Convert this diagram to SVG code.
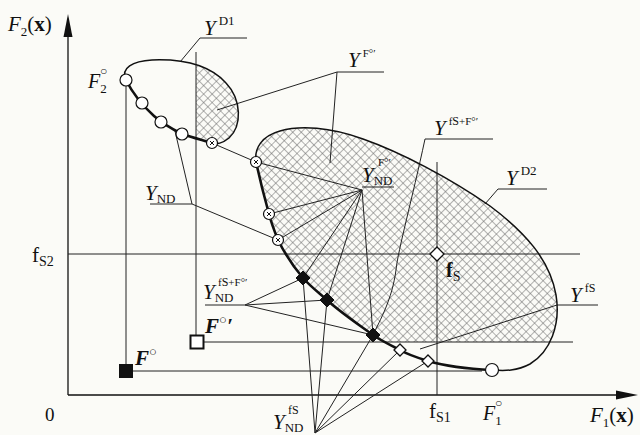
<svg xmlns="http://www.w3.org/2000/svg" width="640" height="435" viewBox="0 0 640 435">
<style>
text{font-family:"Liberation Serif","Times New Roman",serif;fill:#111}
.it{font-style:italic}
.bd{font-weight:bold}
.ln{stroke:#222;stroke-width:1;fill:none}
.ax{stroke:#111;stroke-width:1.3;fill:none}
.bnd{stroke:#111;stroke-width:1.5;fill:none}
.pf{stroke:#111;stroke-width:2.6;fill:none}
.oc{fill:#fff;stroke:#111;stroke-width:1.2}
.fd{fill:#111;stroke:#111;stroke-width:1}
.od{fill:#fff;stroke:#111;stroke-width:1.3}
.big{font-size:21px}
.sup{font-size:11px}
.sub{font-size:13px}
</style>
<defs>
<pattern id="hatch" patternUnits="userSpaceOnUse" width="6" height="6" patternTransform="rotate(45)">
<path d="M0,0H6M0,0V6" stroke="#666" stroke-width="1"/>
</pattern>
<clipPath id="clipD1"><path d="M126,80 C120,68 133,61 152,60 C178,59 208,63 226,83 C242,100 242,126 229,138 C223,143 216,145 212,143 C202,140 191,137 182,134 C172,129 162,123 154,116 C143,106 133,94 126,80 Z"/></clipPath>
<clipPath id="clipD2"><path d="M256,162 C254,148 262,136 280,131 C300,125 330,127 363,139 C400,152 450,178 490,206 C525,232 550,260 556,295 C561,325 550,352 530,364 C517,371 505,371 492,370 C470,369 445,366 428,361 C415,357 405,353 400,350 C390,345 380,340 373,335 C355,322 340,312 327,300 C318,292 310,286 303,278 C292,265 283,250 278,240 C274,230 271,222 269,214 C264,196 260,180 256,162 Z"/></clipPath>
</defs>
<rect width="640" height="435" fill="#fbfbf7"/>

<g id="hatching">
<rect x="196" y="50" width="50" height="100" fill="url(#hatch)" clip-path="url(#clipD1)"/>
<rect x="250" y="120" width="320" height="222" fill="url(#hatch)" clip-path="url(#clipD2)"/>
</g>

<g id="axes">
<path class="ax" d="M68,395 V24"/>
<path d="M68,14 L63.5,37 L72.5,37 Z" fill="#111"/>
<path class="ax" d="M68,395 H620"/>
<path d="M638,395 L616,390.5 L616,399.5 Z" fill="#111"/>
</g>

<g id="connectors">
<path class="ln" d="M68,254 H580"/>
<path class="ln" d="M437,162 V395"/>
<path class="ln" d="M126,80 V364"/>
<path class="ln" d="M196,52 V336"/>
<path class="ln" d="M203,342 H573"/>
<path class="ln" d="M133,371 H482"/>
<path class="ln" d="M315,433 L303,278 M315,433 L327,300 M315,433 L373,335 M315,433 L400,350 M315,433 L428,361"/>
<path class="ln" d="M205,305 H245 L303,278 M245,305 L327,300 M245,305 L373,335"/>
<path class="ln" d="M362,187 H394 M362,190 L256,162 M362,190 L269,214 M362,190 L278,240 M362,190 L303,278 M362,190 L327,300 M362,190 L373,335"/>
<path class="ln" d="M150,204 H192 L175,131 M192,204 L278,240"/>
<path class="ln" d="M212,143 L256,162"/>
<path class="ln" d="M247,38 H200 L180,62"/>
<path class="ln" d="M384,72 H337 L217,110 M337,72 L330,163"/>
<path class="ln" d="M493,139 H425 C412,200 398,250 396,270 C392,300 380,320 373,335"/>
<path class="ln" d="M547,189 H498 L485,204"/>
<path class="ln" d="M598,305 H557 L420,349"/>
</g>

<g id="D1">
<path class="bnd" d="M126,80 C120,68 133,61 152,60 C178,59 208,63 226,83 C242,100 242,126 229,138 C223,143 216,145 212,143"/>
<path class="pf" d="M212,143 C202,140 191,137 182,134 C172,129 162,123 154,116 C143,106 133,94 126,80"/>
</g>
<g id="D2">
<path class="bnd" d="M256,162 C254,148 262,136 280,131 C300,125 330,127 363,139 C400,152 450,178 490,206 C525,232 550,260 556,295 C561,325 550,352 530,364 C517,371 505,371 492,370"/>
<path class="pf" d="M492,370 C470,369 445,366 428,361 C415,357 405,353 400,350 C390,345 380,340 373,335 C355,322 340,312 327,300 C318,292 310,286 303,278 C292,265 283,250 278,240 C274,230 271,222 269,214 C264,196 260,180 256,162"/>
</g>

<g id="nd-circles">
<circle class="oc" cx="126" cy="80" r="6"/>
<circle class="oc" cx="142" cy="103" r="6"/>
<circle class="oc" cx="161" cy="122" r="6"/>
<circle class="oc" cx="182" cy="134" r="6"/>
<circle class="oc" cx="492" cy="370" r="6.5"/>
</g>
<g id="nd-crossed">
<g transform="translate(212,143)"><circle class="oc" r="5.5"/><path d="M-2,-2L2,2M2,-2L-2,2" stroke="#111" stroke-width="1"/></g>
<g transform="translate(256,162)"><circle class="oc" r="5.5"/><path d="M-2,-2L2,2M2,-2L-2,2" stroke="#111" stroke-width="1"/></g>
<g transform="translate(269,214)"><circle class="oc" r="5.5"/><path d="M-2,-2L2,2M2,-2L-2,2" stroke="#111" stroke-width="1"/></g>
<g transform="translate(278,240)"><circle class="oc" r="5.5"/><path d="M-2,-2L2,2M2,-2L-2,2" stroke="#111" stroke-width="1"/></g>
</g>
<g id="nd-diamonds">
<path class="fd" d="M303,271 L310,278 L303,285 L296,278 Z"/>
<path class="fd" d="M327,293 L334,300 L327,307 L320,300 Z"/>
<path class="fd" d="M373,328 L380,335 L373,342 L366,335 Z"/>
<path class="od" d="M400,344 L406,350 L400,356 L394,350 Z"/>
<path class="od" d="M428,355 L434,361 L428,367 L422,361 Z"/>
<path class="od" d="M437,247 L444,254 L437,261 L430,254 Z"/>
</g>
<g id="F0">
<rect x="119" y="364" width="14" height="14" fill="#111"/>
<text x="135" y="365" class="it bd" font-size="21">F<tspan dy="-9" font-size="13" font-weight="normal">○</tspan></text>
</g>
<g id="F0prime">
<rect x="190.5" y="335.5" width="13" height="13" fill="#fff" stroke="#111" stroke-width="2"/>
<text x="205" y="333" class="it bd" font-size="21">F<tspan dy="-9" font-size="13" font-weight="normal">○</tspan><tspan dy="9" font-size="21">′</tspan></text>
</g>

<g id="labels">
<text x="8" y="31" font-size="21"><tspan class="it">F</tspan><tspan font-size="13" dy="5">2</tspan><tspan dy="-5">(</tspan><tspan class="bd">x</tspan>)</text>
<text x="590" y="422" font-size="21"><tspan class="it">F</tspan><tspan font-size="13" dy="5">1</tspan><tspan dy="-5">(</tspan><tspan class="bd">x</tspan>)</text>
<text x="45" y="421" font-size="19">0</text>
<text x="88" y="88" font-size="20"><tspan class="it">F</tspan><tspan font-size="13" dy="5">2</tspan></text>
<text x="100" y="75" font-size="12">○</text>
<text x="483" y="420" font-size="20"><tspan class="it">F</tspan><tspan font-size="13" dy="5">1</tspan></text>
<text x="495" y="407" font-size="12">○</text>
<text x="32" y="262" font-size="21">f<tspan font-size="14" dy="4">S2</tspan></text>
<text x="429" y="418" font-size="21">f<tspan font-size="14" dy="4">S1</tspan></text>
<text x="446" y="277" font-size="20" class="bd">f<tspan font-size="14" dy="4" font-weight="normal">S</tspan></text>

<text x="204" y="35" class="big it">Y<tspan font-style="normal" font-size="13" dx="3" dy="-10">D1</tspan></text>
<text x="348" y="67" class="big it">Y<tspan class="sup" font-style="normal" dx="3" dy="-10">F°′</tspan></text>
<text x="434" y="135" class="big it">Y<tspan class="sup" font-style="normal" dx="3" dy="-10">f<tspan font-size="12">S</tspan>+F°′</tspan></text>
<text x="506" y="185" class="big it">Y<tspan font-style="normal" font-size="13" dx="3" dy="-10">D2</tspan></text>
<text x="570" y="302" class="big it">Y<tspan font-style="normal" font-size="12" dx="3" dy="-10">fS</tspan></text>

<text x="362" y="182" class="big it">Y<tspan class="sub" font-style="normal" dy="3">ND</tspan></text>
<text x="378" y="166" class="sup">F°′</text>
<text x="145" y="200" class="big it">Y<tspan class="sub" font-style="normal" dy="3">ND</tspan></text>
<text x="203" y="299" class="big it">Y<tspan class="sub" font-style="normal" dy="3">ND</tspan></text>
<text x="218" y="286" class="sup">f<tspan font-size="12">S</tspan>+F°′</text>
<text x="273" y="429" class="big it">Y<tspan class="sub" font-style="normal" dy="3">ND</tspan></text>
<text x="288" y="414" font-size="12">fS</text>
</g>
</svg>
